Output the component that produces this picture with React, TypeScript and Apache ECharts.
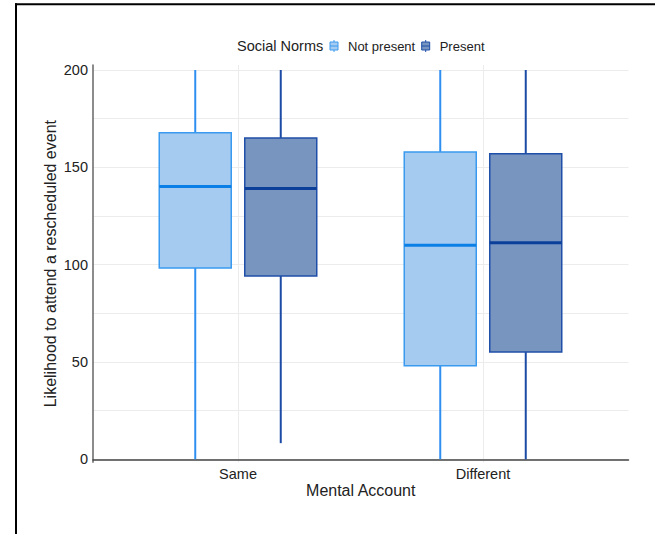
import React, { useEffect, useRef } from "react";
import * as echarts from "echarts";

// ---- data ----
const categories = ["Same", "Different"];
const seriesNames = ["Not present", "Present"];
// [min, q1, median, q3, max]
const notPresentStats = [
  [0, 98.3, 140.1, 167.8, 200],
  [0, 48.1, 110.0, 157.9, 200],
];
const presentStats = [
  [8.3, 94.2, 139.1, 165.1, 200],
  [0, 55.1, 111.2, 157.0, 200],
];
const yLabelTicks = [0, 50, 100, 150, 200];
const yGridTicks = [0, 25, 50, 75, 100, 125, 150, 175, 200];

const FONT = "'Liberation Sans', Arial, Helvetica, sans-serif";
const TEXT = "#222";

const styles = [
  { fill: "#a6cbf0", stroke: "#3a9af0", whisker: "#2f8ff0", median: "#0a7fe6", offset: -0.1745 },
  { fill: "#7795bf", stroke: "#1f4fa8", whisker: "#1b4ba5", median: "#0c3f9a", offset: 0.1745 },
];

const legendIcon =
  "path://M0,2 L8,2 L8,10 L0,10 Z M0,6 L8,6 M4,0 L4,2 M4,10 L4,12";

function makeSeries(idx: number, stats: number[][]) {
  const s = styles[idx];
  return {
    type: "custom",
    name: seriesNames[idx],
    xAxisIndex: 1,
    yAxisIndex: 1,
    clip: false,
    itemStyle: { color: s.fill },
    encode: { x: 0, y: [1, 2, 3, 4, 5] },
    data: categories.map((c, i) => [c, ...stats[i]]),
    renderItem: (params: any, api: any) => {
      const cat = api.value(0);
      const band = api.size([1, 0])[0];
      const w = band * 0.3 - 1.5;
      const pMin = api.coord([cat, api.value(1)]);
      const pQ1 = api.coord([cat, api.value(2)]);
      const pMed = api.coord([cat, api.value(3)]);
      const pQ3 = api.coord([cat, api.value(4)]);
      const pMax = api.coord([cat, api.value(5)]);
      const cx = pMin[0] + s.offset * band;
      return {
        type: "group",
        children: [
          {
            type: "line",
            shape: { x1: cx, y1: pMax[1], x2: cx, y2: pQ3[1] },
            style: { stroke: s.whisker, lineWidth: 2 },
          },
          {
            type: "line",
            shape: { x1: cx, y1: pQ1[1], x2: cx, y2: pMin[1] },
            style: { stroke: s.whisker, lineWidth: 2 },
          },
          {
            type: "rect",
            shape: { x: cx - w / 2, y: pQ3[1], width: w, height: pQ1[1] - pQ3[1] },
            style: { fill: s.fill, stroke: s.stroke, lineWidth: 1.5 },
          },
          {
            type: "line",
            shape: { x1: cx - w / 2, y1: pMed[1], x2: cx + w / 2, y2: pMed[1] },
            style: { stroke: s.median, lineWidth: 3 },
          },
        ],
      };
    },
  };
}

export default function App() {
  const ref = useRef<HTMLDivElement>(null);
  useEffect(() => {
    if (!ref.current) return;
    const chart = echarts.init(ref.current, null, { renderer: "svg" });
    const yMin = -1.54;
    const yMax = 202.57;
    chart.setOption({
      animation: false,
      textStyle: { fontFamily: FONT, color: TEXT },
      title: {
        text: "Social Norms",
        left: 237,
        top: 38.5,
        padding: 0,
        textStyle: { fontFamily: FONT, fontSize: 14.5, fontWeight: "normal", color: TEXT },
      },
      legend: {
        left: 329.5,
        top: 39.5,
        padding: 0,
        itemWidth: 8,
        itemHeight: 12,
        itemGap: 6,
        symbolKeepAspect: true,
        textStyle: { fontFamily: FONT, fontSize: 13, color: TEXT, padding: [0, 0, 0, 5] },
        data: [
          {
            name: seriesNames[0],
            icon: legendIcon,
            itemStyle: { color: styles[0].fill, borderColor: styles[0].stroke, borderWidth: 1 },
          },
          {
            name: seriesNames[1],
            icon: legendIcon,
            itemStyle: { color: styles[1].fill, borderColor: styles[1].stroke, borderWidth: 1 },
          },
        ],
      },
      grid: [
        { left: 93, right: 26.5, top: 65, bottom: 71.7 },
        { left: 238, right: 172, top: 65, bottom: 71.7 },
      ],
      xAxis: [
        {
          type: "value",
          gridIndex: 0,
          min: 0,
          max: 1,
          axisLine: { show: true, lineStyle: { color: "#444", width: 1.5 } },
          axisTick: { show: false },
          axisLabel: { show: false },
          splitLine: { show: false },
          name: "Mental Account",
          nameLocation: "middle",
          nameGap: 20,
          nameMoveOverlap: false,
          nameTextStyle: { fontFamily: FONT, fontSize: 16, color: TEXT },
        },
        {
          type: "category",
          gridIndex: 1,
          data: categories,
          boundaryGap: false,
          axisLine: { show: false },
          axisTick: { show: false },
          axisLabel: { margin: 4, fontFamily: FONT, fontSize: 14.5, color: TEXT },
          splitLine: { show: true, lineStyle: { color: "#ececec", width: 1 } },
        },
      ],
      yAxis: [
        {
          type: "value",
          gridIndex: 0,
          min: yMin,
          max: yMax,
          axisLine: { show: true, lineStyle: { color: "#666", width: 1.5 } },
          axisTick: { show: false, customValues: yGridTicks },
          axisLabel: {
            customValues: yLabelTicks,
            margin: 5,
            fontFamily: FONT,
            fontSize: 14.5,
            color: TEXT,
          },
          splitLine: { show: true, lineStyle: { color: "#ececec", width: 1 } },
          name: "Likelihood to attend a rescheduled event",
          nameLocation: "middle",
          nameGap: 35,
          nameMoveOverlap: false,
          nameTextStyle: { fontFamily: FONT, fontSize: 16, color: TEXT },
        },
        {
          type: "value",
          gridIndex: 1,
          min: yMin,
          max: yMax,
          show: false,
          splitLine: { show: false },
        },
      ],
      graphic: [
        {
          type: "line",
          shape: { x1: 15, y1: 4.2, x2: 655, y2: 4.2 },
          style: { stroke: "#000", lineWidth: 2 },
        },
        {
          type: "line",
          shape: { x1: 16, y1: 3.2, x2: 16, y2: 534 },
          style: { stroke: "#000", lineWidth: 2 },
        },
      ],
      series: [makeSeries(0, notPresentStats), makeSeries(1, presentStats)],
    });
    return () => chart.dispose();
  }, []);
  return (
    <div
      ref={ref}
      style={{ position: "fixed", left: 0, top: 0, width: 655, height: 534, background: "#fff" }}
    />
  );
}
